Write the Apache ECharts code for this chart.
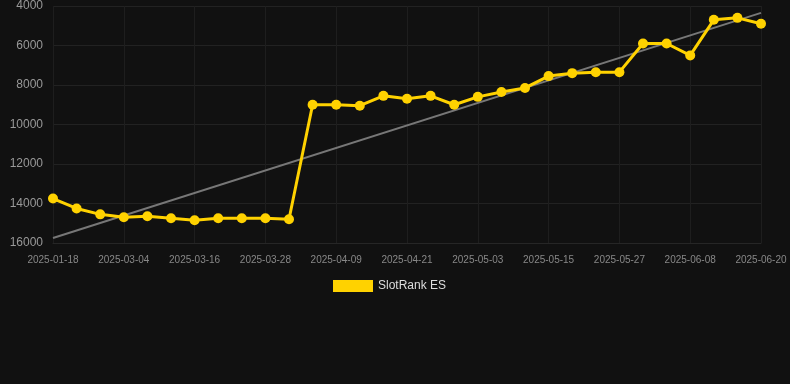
<!DOCTYPE html>
<html><head><meta charset="utf-8">
<script src="https://cdn.jsdelivr.net/npm/echarts@6/dist/echarts.min.js"></script>
<style>html,body{margin:0;padding:0;background:#111;}#c{width:790px;height:384px;}</style>
</head><body><div id="c"></div>
<script>
const categories = ['2025-01-18','2025-02-08','2025-02-22','2025-03-04','2025-03-08','2025-03-12','2025-03-16','2025-03-20','2025-03-24','2025-03-28','2025-04-01','2025-04-05','2025-04-09','2025-04-13','2025-04-17','2025-04-21','2025-04-25','2025-04-29','2025-05-03','2025-05-07','2025-05-11','2025-05-15','2025-05-19','2025-05-23','2025-05-27','2025-05-31','2025-06-04','2025-06-08','2025-06-12','2025-06-16','2025-06-20'];
const rankValues = [13750,14250,14550,14700,14650,14750,14850,14750,14750,14750,14800,9000,9000,9050,8550,8700,8550,9000,8600,8350,8150,7550,7400,7350,7350,5900,5900,6500,4700,4600,4900];
const trendStart = 15750;
const trendEnd = 4350;
const seriesName = 'SlotRank ES';

const chart = echarts.init(document.getElementById('c'));
chart.setOption({
  backgroundColor: '#111111',
  animation: false,
  grid: {left: 53, right: 29, top: 6, bottom: 141},
  legend: {
    data: [seriesName], top: 275, left: 328,
    itemWidth: 40, itemHeight: 12, icon: 'rect',
    textStyle: {color: '#dddddd', fontSize: 12, fontFamily: 'Liberation Sans, Arial, sans-serif'}
  },
  xAxis: {
    type: 'category', data: categories, boundaryGap: false,
    axisLine: {lineStyle: {color: '#262626'}},
    axisTick: {show: false},
    axisLabel: {interval: 2, color: '#888', fontSize: 10, margin: 12, fontFamily: 'Liberation Sans, Arial, sans-serif'},
    splitLine: {show: true, interval: 2, lineStyle: {color: '#1e1e1e'}}
  },
  yAxis: {
    type: 'value', inverse: true, min: 4000, max: 16000, interval: 2000,
    axisLine: {show: false}, axisTick: {show: false},
    axisLabel: {color: '#999', fontSize: 12, margin: 10, formatter: v => String(v), fontFamily: 'Liberation Sans, Arial, sans-serif'},
    splitLine: {lineStyle: {color: '#222'}}
  },
  series: [
    {
      name: 'trend', type: 'line', symbol: 'none', silent: true,
      data: [[categories[0], trendStart], [categories[categories.length-1], trendEnd]],
      lineStyle: {color: '#777', width: 2}, z: 1
    },
    {
      name: seriesName, type: 'line', data: rankValues,
      symbol: 'circle', symbolSize: 10,
      itemStyle: {color: '#FFD200'},
      lineStyle: {color: '#FFD200', width: 3}, z: 2
    }
  ]
});
</script></body></html>
